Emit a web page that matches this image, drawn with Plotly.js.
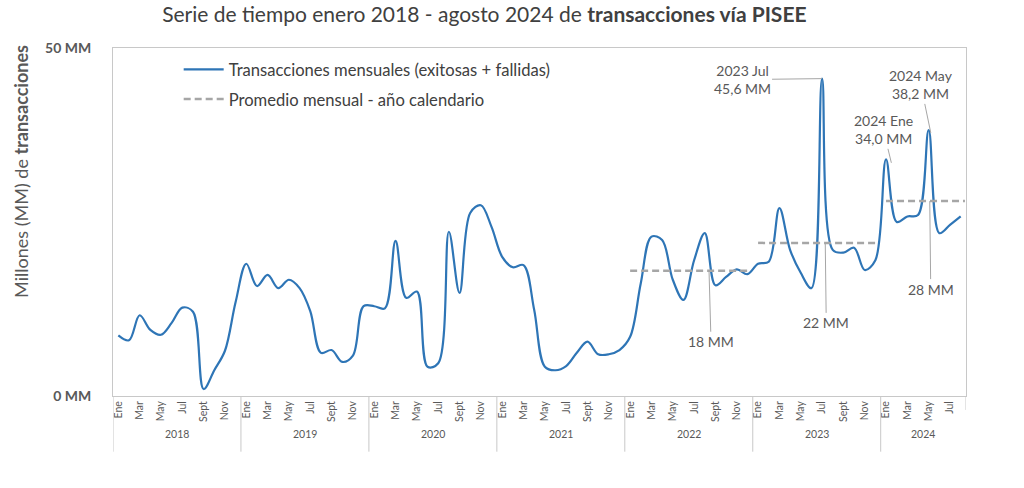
<!DOCTYPE html>
<html>
<head>
<meta charset="utf-8">
<script src="https://cdn.plot.ly/plotly-3.0.1.min.js"></script>
<style>html,body{margin:0;padding:0;background:#fff;}#chart{width:1024px;height:488px;}</style>
</head>
<body>
<div id="chart"></div>
<script>
// ---- Data ----
const years = [2018, 2019, 2020, 2021, 2022, 2023, 2024];
const monthNames = ['Ene','Feb','Mar','Abr','May','Jun','Jul','Ago','Sept','Oct','Nov','Dic'];
const shownMonths = ['Ene','Mar','May','Jul','Sept','Nov'];
const values2018 = [8.7, 8.0, 11.6, 9.5, 8.8, 10.5, 12.7, 12.1, 1.0, 3.7, 6.5, 13.5];
const values2019 = [19.0, 15.8, 17.4, 15.5, 16.7, 15.5, 12.2, 6.2, 6.6, 4.9, 5.8, 12.9];
const values2020 = [12.9, 12.6, 22.3, 14.1, 15.0, 4.2, 4.7, 23.6, 14.8, 26.3, 27.4, 24.3];
const values2021 = [20.0, 18.5, 18.8, 12.4, 4.2, 3.7, 4.3, 6.2, 7.8, 6.0, 6.0, 6.6];
const values2022 = [8.5, 16.2, 22.9, 22.4, 16.7, 13.8, 19.5, 23.4, 15.9, 17.1, 18.2, 17.5];
const values2023 = [19.0, 19.3, 27.0, 21.0, 17.7, 15.5, 45.6, 21.0, 20.6, 21.3, 18.1, 19.5];
const values2024 = [34.0, 25.0, 25.8, 26.0, 38.2, 23.4, 24.6, 25.8];
const avgYears = [2022, 2023, 2024];
const avgValues = [18, 22, 28];
const yTickVals = [0, 50];
const yTickText = ['0 MM', '50 MM'];

// ---- Build ----
const values = [].concat(values2018, values2019, values2020, values2021, values2022, values2023, values2024);
const idx = values.map((_, i) => i);
const nMonths = values.length;

const tickvals = [], ticktext = [];
idx.forEach(i => {
  const m = monthNames[i % 12];
  if (shownMonths.includes(m)) { tickvals.push(i); ticktext.push(m); }
});

const avgX = [], avgY = [];
avgYears.forEach((yr, k) => {
  const start = (yr - years[0]) * 12;
  const end = Math.min(start + 11.2, nMonths - 0.6);
  avgX.push(start, end, null);
  avgY.push(avgValues[k], avgValues[k], null);
});

const font = 'Lato, "Open Sans", sans-serif';
const grey = '#595959';

const traces = [
  {x: idx, y: values, type: 'scatter', mode: 'lines',
   line: {color: '#2e75b6', width: 2.2, shape: 'spline', smoothing: 1},
   name: 'Transacciones mensuales (exitosas + fallidas)', legendgroup: 'a', hoverinfo: 'skip'},
  {x: avgX, y: avgY, type: 'scatter', mode: 'lines', connectgaps: false,
   line: {color: '#a6a6a6', width: 2.5, dash: '7px,4px'},
   name: 'Promedio mensual - año calendario', legendgroup: 'b', hoverinfo: 'skip'}
];

const shapes = [];
const annotations = [];
years.forEach((yr, k) => {
  const x0 = k * 12 - 0.5;
  shapes.push({type: 'line', xref: 'x', yref: 'paper', x0: x0, x1: x0, y0: 0, y1: -0.16,
               line: {color: '#c8c8c8', width: 1}});
  const last = Math.min(k * 12 + 11, nMonths - 1);
  annotations.push({xref: 'x', yref: 'paper', x: (k * 12 + last) / 2, y: -0.132,
                    text: String(yr), showarrow: false, font: {family: font, size: 10.5, color: grey}});
});
shapes.push({type: 'line', xref: 'x', yref: 'paper', x0: nMonths - 0.5, x1: nMonths - 0.5, y0: 0, y1: -0.04,
             line: {color: '#c8c8c8', width: 1}});

function lbl(x, y, text, ax, ay) {
  return {xref: 'x', yref: 'y', x: x, y: y, text: text, showarrow: true, arrowhead: 0,
          arrowwidth: 1, arrowcolor: '#a6a6a6', ax: ax, ay: ay, standoff: 0,
          font: {family: font, size: 14, color: grey}};
}
const peakIdx = values.indexOf(Math.max(...values));
annotations.push(lbl(peakIdx, values[peakIdx], '2023 Jul<br>45,6 MM', -80, 1));
annotations.push(lbl(72.5, 33.5, '2024 Ene<br>34,0 MM', -8, -33));
annotations.push(lbl(76.2, 37.8, '2024 May<br>38,2 MM', -10, -48));
annotations.push(lbl(55.4, avgValues[0], '18 MM', 2, 71));
annotations.push(lbl(66.3, avgValues[1], '22 MM', 1, 80));
annotations.push(lbl(76.1, avgValues[2], '28 MM', 1, 88));

annotations.push({xref: 'paper', yref: 'paper', x: 0, xshift: -92, y: 0.644, xanchor: 'center', yanchor: 'middle',
  textangle: -90, text: 'Millones (MM) de <b>transacciones</b>', showarrow: false,
  font: {family: font, size: 18, color: grey}});

const layout = {
  width: 1024, height: 488,
  margin: {l: 113, r: 58, t: 48, b: 92},
  paper_bgcolor: '#fff', plot_bgcolor: '#fff',
  font: {family: font, color: grey},
  title: {text: 'Serie de tiempo enero 2018 - agosto 2024 de <b>transacciones vía PISEE</b>',
          font: {family: font, size: 21, color: '#404040'},
          x: 0.473, xanchor: 'center', xref: 'container', y: 0.969, yanchor: 'middle', yref: 'container'},
  xaxis: {range: [-0.5, nMonths - 0.5], tickvals: tickvals, ticktext: ticktext, tickangle: -90,
          tickfont: {family: font, size: 10.5, color: grey}, ticks: '', showgrid: false, zeroline: false,
          showline: true, mirror: true, linecolor: '#c8c8c8', linewidth: 1, fixedrange: true},
  yaxis: {range: [0, 50], tickvals: yTickVals, ticktext: yTickText.map(t => '<b>' + t + '</b>'),
          tickfont: {family: font, size: 14, color: grey}, ticks: '', showgrid: false, zeroline: false,
          showline: true, mirror: true, linecolor: '#c8c8c8', linewidth: 1, ticklabelstandoff: 18, fixedrange: true},
  showlegend: true,
  legend: {x: 0.077, y: 0.988, xanchor: 'left', yanchor: 'top', bgcolor: 'rgba(0,0,0,0)',
           font: {family: font, size: 16.6, color: '#404040'}, tracegroupgap: 5, itemwidth: 40},
  shapes: shapes,
  annotations: annotations
};

Plotly.newPlot('chart', traces, layout, {displayModeBar: false, staticPlot: true});
</script>
</body>
</html>
